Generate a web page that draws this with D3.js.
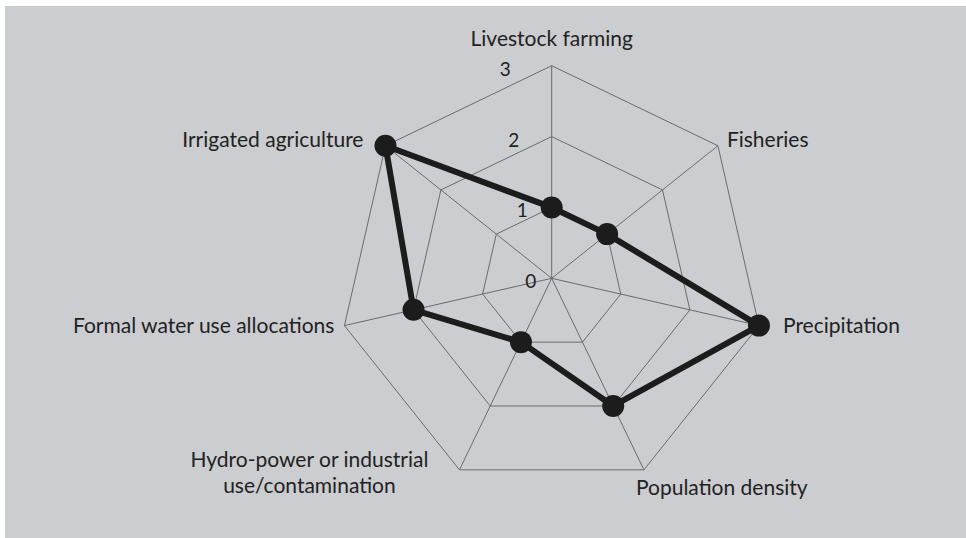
<!DOCTYPE html>
<html>
<head>
<meta charset="utf-8">
<script src="https://cdn.jsdelivr.net/npm/d3@7"></script>
<style>
  html, body { margin: 0; padding: 0; background: #ffffff; }
  #radar text { font-family: "Lato", "Open Sans", sans-serif; fill: #222; }
</style>
</head>
<body>
<div id="radar"></div>
<script>
// axes (clockwise from top) and the scores
var axes = ["Livestock farming", "Fisheries", "Precipitation", "Population density",
            ["Hydro-power or industrial", "use/contamination"],
            "Formal water use allocations", "Irrigated agriculture"];
var scores = [1, 1, 3, 2, 1, 2, 3];
var levels = [0, 1, 2, 3];

// where each axis label sits relative to its outer vertex
var labelLayout = [
  {dx: 0, dy: -20, anchor: "middle"},
  {dx: 9, dy: 1, anchor: "start"},
  {dx: 24, dy: 7, anchor: "start"},
  {dx: -8, dy: 25, anchor: "start"},
  {dx: -150, dy: -3, anchor: "middle"},
  {dx: -10, dy: 7, anchor: "end"},
  {dx: -22, dy: 1, anchor: "end"}
];

var W = 966, H = 538;
var cx = 551.7, cy = 278.3, R = 212.6;

var svg = d3.select("#radar")
  .append("svg")
    .attr("width", W)
    .attr("height", H);

// grey panel
svg.append("rect")
  .attr("x", 5).attr("y", 6)
  .attr("width", W - 5).attr("height", H - 6)
  .attr("fill", "#cccdd0");

var r = d3.scaleLinear().domain([0, 3]).range([0, R]);
var angle = function(i) { return i * 2 * Math.PI / axes.length; };
var px = function(i, v) { return cx + r(v) * Math.sin(angle(i)); };
var py = function(i, v) { return cy - r(v) * Math.cos(angle(i)); };

var g = svg.append("g");

// rings
levels.filter(function(l) { return l > 0; }).forEach(function(l) {
  g.append("polygon")
    .attr("points", axes.map(function(a, i) { return px(i, l) + "," + py(i, l); }).join(" "))
    .attr("fill", "none")
    .attr("stroke", "#6b6b6b")
    .attr("stroke-width", 1);
});

// spokes
g.selectAll("line.spoke")
  .data(axes)
  .enter()
  .append("line")
    .attr("class", "spoke")
    .attr("x1", cx).attr("y1", cy)
    .attr("x2", function(d, i) { return px(i, 3); })
    .attr("y2", function(d, i) { return py(i, 3); })
    .attr("stroke", "#6b6b6b")
    .attr("stroke-width", 1);

// level numbers along the top spoke
g.selectAll("text.level")
  .data(levels)
  .enter()
  .append("text")
    .attr("class", "level")
    .attr("x", function(d) { return cx - 21 - d * 8.5; })
    .attr("y", function(d) { return cy - r(d) + 10; })
    .attr("text-anchor", "middle")
    .style("font-size", "19px")
    .text(function(d) { return d; });

// score outline
var line = d3.line()
  .x(function(d, i) { return px(i, d); })
  .y(function(d, i) { return py(i, d); })
  .curve(d3.curveLinearClosed);

g.append("path")
  .datum(scores)
  .attr("d", line)
  .attr("fill", "none")
  .attr("stroke", "#1c1c1c")
  .attr("stroke-width", 6)
  .attr("stroke-linejoin", "round");

g.selectAll("circle.dot")
  .data(scores)
  .enter()
  .append("circle")
    .attr("class", "dot")
    .attr("cx", function(d, i) { return px(i, d); })
    .attr("cy", function(d, i) { return py(i, d); })
    .attr("r", 11)
    .attr("fill", "#1c1c1c");

// axis labels
axes.forEach(function(name, i) {
  var lay = labelLayout[i];
  var t = g.append("text")
    .attr("x", px(i, 3) + lay.dx)
    .attr("y", py(i, 3) + lay.dy)
    .attr("text-anchor", lay.anchor)
    .style("font-size", "21px");
  var lines = Array.isArray(name) ? name : [name];
  lines.forEach(function(s, k) {
    t.append("tspan")
      .attr("x", px(i, 3) + lay.dx)
      .attr("dy", k === 0 ? 0 : 26)
      .text(s);
  });
});
</script>
</body>
</html>
